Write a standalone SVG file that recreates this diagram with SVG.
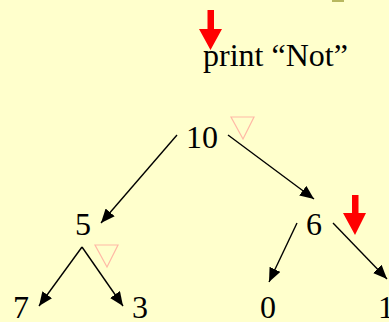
<svg xmlns="http://www.w3.org/2000/svg" width="389" height="322" viewBox="0 0 389 322">
<defs>
<style>
.t{font-family:"Liberation Serif","Times New Roman",serif;font-size:32px;fill:#000}
.e{stroke:#000;stroke-width:1.4;fill:none}
.tri{fill:none;stroke:#FFB9A6;stroke-width:1.2}
.red{fill:#FF0000}
</style>
<marker id="ah" markerUnits="userSpaceOnUse" markerWidth="16" markerHeight="12" viewBox="0 0 16 12" refX="14" refY="6" orient="auto">
<path d="M0,0 L14,6 L0,12 Z" fill="#000"/>
</marker>
</defs>
<rect width="389" height="322" fill="#FFFFCC"/>
<rect x="332" y="0" width="12" height="2" fill="#B8B860"/>
<g id="connectors">
<line class="e" x1="177" y1="135" x2="101" y2="223" marker-end="url(#ah)"/>
<line class="e" x1="228" y1="135" x2="314" y2="199" marker-end="url(#ah)"/>
<line class="e" x1="82" y1="247" x2="39" y2="306" marker-end="url(#ah)"/>
<line class="e" x1="82" y1="247" x2="123" y2="306" marker-end="url(#ah)"/>
<line class="e" x1="297" y1="223" x2="269" y2="282" marker-end="url(#ah)"/>
<line class="e" x1="333" y1="223" x2="387" y2="279" marker-end="url(#ah)"/>
</g>
<g id="pointer1">
<path class="red" d="M207.5,10 H214 V29 H222 L210.5,50 L199,29 H207.5 Z"/>
</g>
<g id="print">
<text class="t" x="203" y="66">print “Not”</text>
</g>
<g id="pointer2">
<path class="red" d="M352,195 H358.5 V213 H366 L355,235 L343,213 H352 Z"/>
</g>
<g id="n10"><text class="t" x="202" y="148" text-anchor="middle">10</text>
<path class="tri" d="M231,117 H254 L243,139 Z"/></g>
<g id="n5"><text class="t" x="83" y="235" text-anchor="middle">5</text>
<path class="tri" d="M95,245 H118 L107,267 Z"/></g>
<g id="n6"><text class="t" x="314" y="235" text-anchor="middle">6</text></g>
<g id="n7"><text class="t" x="21" y="318" text-anchor="middle">7</text></g>
<g id="n3"><text class="t" x="140" y="318" text-anchor="middle">3</text></g>
<g id="n0"><text class="t" x="268" y="318" text-anchor="middle">0</text></g>
<g id="n1"><text class="t" x="378" y="318">1</text></g>
</svg>
